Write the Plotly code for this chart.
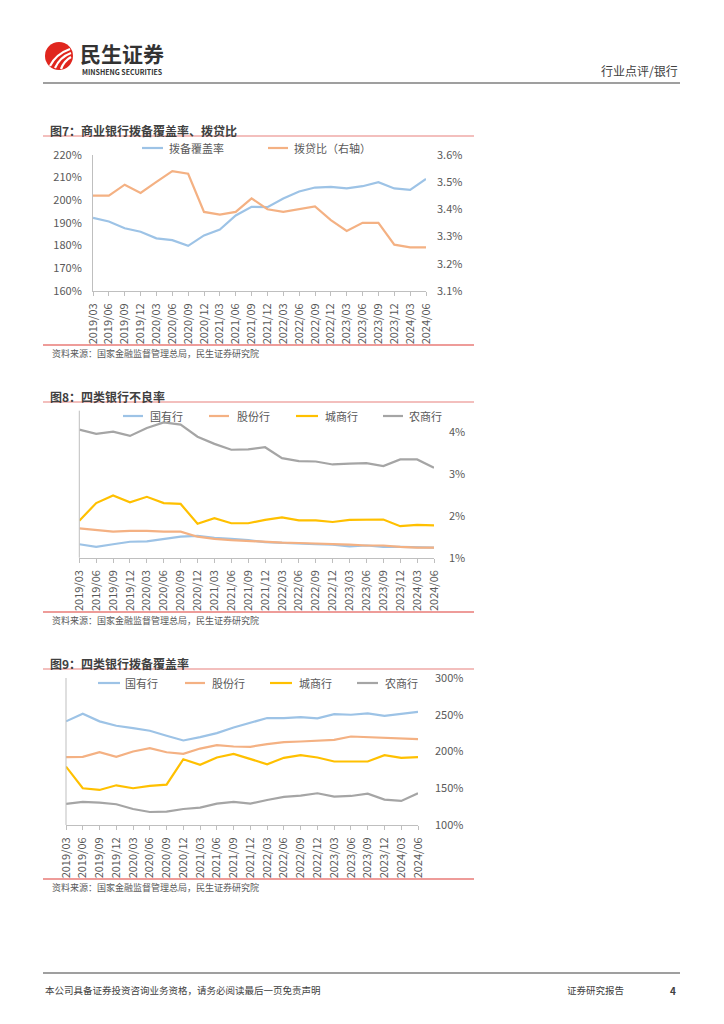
import plotly.graph_objects as go

W, H = 724, 1024

# ---------------- data ----------------
quarters = ["2019/03", "2019/06", "2019/09", "2019/12", "2020/03", "2020/06", "2020/09", "2020/12",
            "2021/03", "2021/06", "2021/09", "2021/12", "2022/03", "2022/06", "2022/09", "2022/12",
            "2023/03", "2023/06", "2023/09", "2023/12", "2024/03", "2024/06"]

# Fig 7: commercial banks
coverage_all = [192.17, 190.61, 187.63, 186.08, 183.20, 182.40, 179.89, 184.47, 187.06, 193.23, 197.08,
                196.91, 200.73, 203.78, 205.54, 205.85, 205.14, 206.13, 207.89, 205.14, 204.54, 209.32]
loan_ratio_all = [3.45, 3.45, 3.49, 3.46, 3.50, 3.54, 3.53, 3.39, 3.38, 3.39, 3.44, 3.40, 3.39, 3.40,
                  3.41, 3.36, 3.32, 3.35, 3.35, 3.27, 3.26, 3.26]

# Fig 8: NPL ratio by bank type
npl_state = [1.32, 1.26, 1.32, 1.38, 1.39, 1.45, 1.50, 1.52, 1.47, 1.45, 1.42, 1.37, 1.35, 1.34, 1.32,
             1.31, 1.27, 1.29, 1.26, 1.26, 1.25, 1.24]
npl_joint = [1.70, 1.66, 1.62, 1.64, 1.64, 1.62, 1.62, 1.50, 1.45, 1.42, 1.40, 1.37, 1.36, 1.35, 1.34,
             1.32, 1.31, 1.29, 1.29, 1.26, 1.24, 1.24]
npl_city = [1.88, 2.30, 2.48, 2.32, 2.45, 2.30, 2.28, 1.81, 1.94, 1.82, 1.82, 1.90, 1.96, 1.89, 1.89,
            1.85, 1.90, 1.90, 1.91, 1.75, 1.78, 1.77]
npl_rural = [4.05, 3.95, 4.00, 3.90, 4.09, 4.22, 4.17, 3.88, 3.71, 3.57, 3.58, 3.63, 3.37, 3.30, 3.29,
             3.22, 3.24, 3.25, 3.18, 3.34, 3.34, 3.14]

# Fig 9: provision coverage by bank type
cov_state = [241.0, 251.4, 241.0, 235.0, 231.8, 228.2, 221.4, 215.0, 219.5, 225.0, 232.7, 239.5, 245.5,
             245.5, 246.8, 245.0, 250.9, 250.0, 251.8, 248.6, 251.4, 254.0]
cov_joint = [192.3, 192.7, 199.0, 192.7, 200.0, 204.5, 199.0, 196.8, 204.0, 208.6, 206.8, 206.4, 210.0,
             212.7, 213.6, 215.0, 215.9, 220.4, 219.5, 219.0, 218.2, 216.8]
cov_city = [179.5, 150.0, 147.7, 154.0, 150.0, 153.2, 155.0, 189.5, 181.8, 191.8, 196.8, 189.5, 182.7,
            191.4, 195.0, 191.8, 186.4, 186.4, 186.4, 195.0, 191.4, 192.3]
cov_rural = [128.6, 131.4, 130.5, 128.2, 121.8, 117.7, 118.2, 121.8, 123.6, 129.0, 131.4, 129.0, 134.0,
             138.2, 140.0, 143.2, 138.6, 139.5, 142.7, 134.5, 132.7, 143.2]

fig7_left_ticks = [160, 170, 180, 190, 200, 210, 220]
fig7_left_labels = ["160%", "170%", "180%", "190%", "200%", "210%", "220%"]
fig7_right_ticks = [3.1, 3.2, 3.3, 3.4, 3.5, 3.6]
fig7_right_labels = ["3.1%", "3.2%", "3.3%", "3.4%", "3.5%", "3.6%"]
fig8_ticks = [1, 2, 3, 4]
fig8_labels = ["1%", "2%", "3%", "4%"]
fig9_ticks = [100, 150, 200, 250, 300]
fig9_labels = ["100%", "150%", "200%", "250%", "300%"]

names4 = ["国有行", "股份行", "城商行", "农商行"]

# ---------------- styles ----------------
BLUE, ORANGE, YELLOW, GRAY = "#9DC3E6", "#F4B183", "#FFC000", "#A5A5A5"
FONT = "Noto Sans CJK SC"
TXT = "#595959"
AXC = "#BFBFBF"
RED_TOP = "#E8807C"
RED_BOT = "#DD3B35"


def px(x):
    return x / W


def py(y):
    return 1 - y / H


fig = go.Figure()

# Fig 7 traces
fig.add_trace(go.Scatter(x=quarters, y=coverage_all, mode="lines", name="拨备覆盖率",
                         line=dict(color=BLUE, width=2.2), xaxis="x", yaxis="y"))
fig.add_trace(go.Scatter(x=quarters, y=loan_ratio_all, mode="lines", name="拨贷比（右轴）",
                         line=dict(color=ORANGE, width=2.2), xaxis="x", yaxis="y2"))

# Fig 8 traces
for vals, c, n in zip([npl_state, npl_joint, npl_city, npl_rural], [BLUE, ORANGE, YELLOW, GRAY], names4):
    fig.add_trace(go.Scatter(x=quarters, y=vals, mode="lines", name=n,
                             line=dict(color=c, width=2.2), xaxis="x2", yaxis="y3"))

# Fig 9 traces
for vals, c, n in zip([cov_state, cov_joint, cov_city, cov_rural], [BLUE, ORANGE, YELLOW, GRAY], names4):
    fig.add_trace(go.Scatter(x=quarters, y=vals, mode="lines", name=n,
                             line=dict(color=c, width=2.2), xaxis="x3", yaxis="y4"))

tickfont = dict(family=FONT, size=11, color=TXT)


def xaxis_cfg(dom, anchor):
    return dict(domain=dom, anchor=anchor, type="category", range=[0, 21], automargin=False,
                showline=True, linecolor=AXC, linewidth=1, ticks="outside", ticklen=4,
                tickcolor=AXC, tickangle=-90, tickfont=tickfont, showgrid=False, zeroline=False,
                ticklabelstandoff=3, fixedrange=True)


def yaxis_cfg(**kw):
    base = dict(automargin=False, ticks="", showgrid=False, zeroline=False, tickfont=tickfont,
                tickmode="array", fixedrange=True)
    base.update(kw)
    return base


layout = dict(
    template="none",
    width=W, height=H, autosize=False, margin=dict(l=0, r=0, t=0, b=0, pad=0),
    paper_bgcolor="white", plot_bgcolor="white", showlegend=False,
    font=dict(family=FONT, color=TXT),
    xaxis=xaxis_cfg([px(93), px(426)], "y"),
    yaxis=yaxis_cfg(domain=[py(291), py(154.7)], anchor="x", range=[160, 220],
                    tickvals=fig7_left_ticks, ticktext=fig7_left_labels,
                    showline=True, linecolor=AXC, linewidth=1, ticklabelstandoff=8),
    yaxis2=yaxis_cfg(overlaying="y", side="right", anchor="x", range=[3.1, 3.6],
                     tickvals=fig7_right_ticks, ticktext=fig7_right_labels,
                     showline=False, ticklabelstandoff=10),
    xaxis2=xaxis_cfg([px(79.3), px(434)], "y3"),
    yaxis3=yaxis_cfg(domain=[py(557.7), py(410.7)], anchor="x2", side="right", range=[1, 4.5],
                     tickvals=fig8_ticks, ticktext=fig8_labels, showline=False, ticklabelstandoff=14),
    xaxis3=xaxis_cfg([px(66), px(418)], "y4"),
    yaxis4=yaxis_cfg(domain=[py(825), py(678)], anchor="x3", side="right", range=[100, 300],
                     tickvals=fig9_ticks, ticktext=fig9_labels, showline=False, ticklabelstandoff=16),
)
fig.update_layout(**layout)

shapes = []
annotations = []


def hline(x0, x1, y, color, width=1):
    shapes.append(dict(type="line", xref="paper", yref="paper", x0=px(x0), x1=px(x1), y0=py(y), y1=py(y),
                       line=dict(color=color, width=width)))


def text(x, y, s, size, color="#404040", bold=False, anchor="left"):
    annotations.append(dict(xref="paper", yref="paper", x=px(x), y=py(y), text=f"<b>{s}</b>" if bold else s,
                            showarrow=False, xanchor=anchor, yanchor="middle",
                            font=dict(family=FONT, size=size, color=color)))


def legend_item(x0, x1, tx, y, color, label):
    hline(x0, x1, y, color, 2.2)
    text(tx, y, label, 11, TXT)


# Header
hline(43, 680, 83, "#7F7F7F", 1.5)
shapes.append(dict(type="circle", xref="paper", yref="paper", x0=px(45), x1=px(73), y0=py(70), y1=py(42),
                   fillcolor="#E0261E", line=dict(width=0)))


def pth(points):
    (a, b), rest = points[0], points[1:]
    s = f"M {px(a)},{py(b)}"
    for (c1, c2, e1, e2) in rest:
        s += f" Q {px(c1)},{py(c2)} {px(e1)},{py(e2)}"
    return s


for (sx, sy, cx, cy, ex, ey) in [(50, 66, 56, 54, 70, 49), (55, 68, 60, 57, 71, 53), (61, 69, 64, 61, 71, 57)]:
    shapes.append(dict(type="path", xref="paper", yref="paper",
                       path=pth([(sx, sy), (cx, cy, ex, ey)]),
                       line=dict(color="white", width=2.2)))
text(78, 53, "民生证券", 21, "#333333", bold=True)
text(80, 72, "MINSHENG SECURITIES", 7, "#333333", bold=True)
text(680, 70, "行业点评/银行", 12, "#404040", anchor="right")

# Fig 7 frame
text(48, 130, "图7：商业银行拨备覆盖率、拨贷比", 12, "#404040", bold=True)
hline(43, 474, 136, RED_TOP, 1.2)
legend_item(142, 163, 167, 148, BLUE, "拨备覆盖率")
legend_item(268, 288, 292, 148, ORANGE, "拨贷比（右轴）")
hline(43, 474, 345, RED_BOT, 1.2)
text(50, 353, "资料来源：国家金融监督管理总局，民生证券研究院", 9, TXT)

# Fig 8 frame
text(48, 396, "图8：四类银行不良率", 12, "#404040", bold=True)
hline(43, 474, 402, RED_TOP, 1.2)
for (x0, x1, tx), c, n in zip([(123, 143, 148), (209, 229, 235), (296, 318, 323), (383, 403, 407)],
                              [BLUE, ORANGE, YELLOW, GRAY], names4):
    legend_item(x0, x1, tx, 416, c, n)
shapes.append(dict(type="line", xref="x2 domain", yref="y3 domain", x0=0, x1=0, y0=0, y1=1,
                   line=dict(color=AXC, width=1)))
hline(43, 474, 612, RED_BOT, 1.2)
text(50, 620, "资料来源：国家金融监督管理总局，民生证券研究院", 9, TXT)

# Fig 9 frame
text(48, 663, "图9：四类银行拨备覆盖率", 12, "#404040", bold=True)
hline(43, 474, 669, RED_TOP, 1.2)
for (x0, x1, tx), c, n in zip([(98, 120, 123), (185, 205, 210), (270, 292, 297), (357, 378, 383)],
                              [BLUE, ORANGE, YELLOW, GRAY], names4):
    legend_item(x0, x1, tx, 683, c, n)
shapes.append(dict(type="line", xref="x3 domain", yref="y4 domain", x0=0, x1=0, y0=0, y1=1,
                   line=dict(color=AXC, width=1)))
hline(43, 474, 879, RED_BOT, 1.2)
text(50, 887, "资料来源：国家金融监督管理总局，民生证券研究院", 9, TXT)

# Footer
hline(43, 680, 973, "#7F7F7F", 1.5)
text(43, 990, "本公司具备证券投资咨询业务资格，请务必阅读最后一页免责声明", 9.5, "#404040")
text(565, 990, "证券研究报告", 9.5, "#404040")
text(673, 990, "4", 10, "#404040", bold=True, anchor="center")

fig.update_layout(shapes=shapes, annotations=annotations)
fig.write_html("out.html", config={"displayModeBar": False, "staticPlot": True},
               post_script="document.body.style.margin='0';document.body.style.overflow='hidden';")
